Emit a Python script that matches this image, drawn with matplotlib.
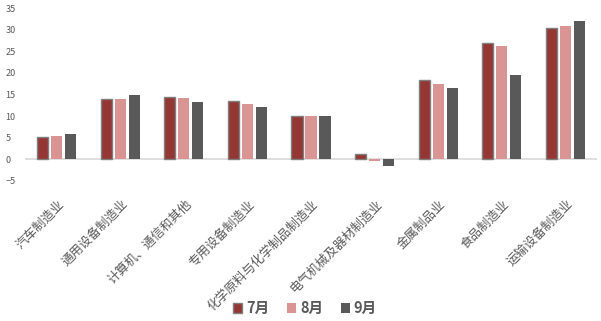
import numpy as np
import matplotlib.pyplot as plt
from matplotlib.patches import Patch

plt.rcParams['font.family'] = ['Noto Sans CJK SC', 'DejaVu Sans']

categories = ['汽车制造业', '通用设备制造业', '计算机、通信和其他', '专用设备制造业',
              '化学原料与化学制品制造业', '电气机械及器材制造业', '金属制品业',
              '食品制造业', '运输设备制造业']
jul = [5.1, 13.9, 14.5, 13.5, 10.0, 1.2, 18.3, 26.8, 30.3]
aug = [5.4, 13.9, 14.2, 12.8, 10.0, -0.3, 17.4, 26.2, 30.9]
sep = [5.8, 14.8, 13.2, 12.1, 10.0, -1.5, 16.5, 19.5, 32.0]
series_names = ['7月', '8月', '9月']
colors = ['#943634', '#D99594', '#595959']
txt = '#595959'

fig = plt.figure(figsize=(6.01, 3.21), dpi=100)
ax = fig.add_axes([25 / 601, 1 - 181 / 321, 572 / 601, 173 / 321])

x = np.arange(len(categories))
w = 0.175
step = 0.22
ax.bar(x - step, jul, w, color=colors[0], edgecolor='#7f7f7f', linewidth=1)
ax.bar(x, aug, w, color=colors[1])
ax.bar(x + step, sep, w, color=colors[2])

ax.set_xlim(-0.5, len(categories) - 0.5)
ax.set_ylim(-5, 35)
ax.set_yticks(range(-5, 36, 5))
ax.axhline(0, color='#d9d9d9', linewidth=1.2, zorder=0)
for s in ax.spines.values():
    s.set_visible(False)
ax.tick_params(axis='y', length=0, labelsize=6.5, labelcolor=txt, pad=14)
ax.tick_params(axis='x', length=0, pad=12)
for lab in ax.get_yticklabels():
    lab.set_horizontalalignment('left')
ax.set_xticks(x + 0.16)
ax.set_xticklabels(categories, rotation=45, ha='right', va='top',
                   fontsize=9, color=txt)

handles = [Patch(facecolor=colors[0], edgecolor='#7f7f7f', linewidth=1),
           Patch(facecolor=colors[1]), Patch(facecolor=colors[2])]
fig.legend(handles, series_names, loc='center', bbox_to_anchor=(305 / 601, 1 - 308 / 321),
           ncol=3, frameon=False, handlelength=0.65, handleheight=0.65,
           handletextpad=0.25, columnspacing=1.2,
           prop={'weight': 'bold', 'size': 10.5})
for t in fig.legends[0].get_texts():
    t.set_color(txt)

fig.savefig('out.png', dpi=100)
